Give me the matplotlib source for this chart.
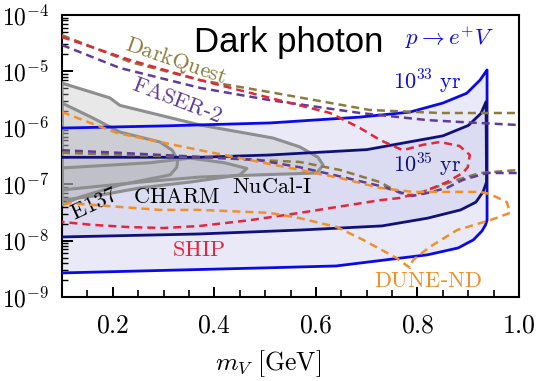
import numpy as np
import matplotlib.pyplot as plt

plt.rcParams['mathtext.fontset'] = 'cm'

# proton decay bands p -> e+ V (coupling vs mass)
b33_up_m = [0.100, 0.300, 0.510, 0.687, 0.785, 0.850, 0.897, 0.923, 0.935, 0.937]
b33_up_e = [9.9e-7, 1.08e-6, 1.22e-6, 1.55e-6, 1.9e-6, 2.75e-6, 4.1e-6, 7.0e-6, 1.0e-5, 1.06e-5]
b33_lo_m = [0.100, 0.510, 0.640, 0.750, 0.820, 0.880, 0.910, 0.927, 0.934, 0.937]
b33_lo_e = [2.67e-9, 3.3e-9, 3.55e-9, 4.7e-9, 5.6e-9, 7.4e-9, 1.03e-8, 1.48e-8, 1.9e-8, 2.3e-8]

b35_up_m = [0.100, 0.370, 0.510, 0.700, 0.850, 0.900, 0.925, 0.935]
b35_up_e = [3.0e-7, 3.0e-7, 3.3e-7, 4.1e-7, 7.2e-7, 1.1e-6, 1.8e-6, 2.9e-6]
b35_lo_m = [0.100, 0.370, 0.570, 0.730, 0.820, 0.885, 0.915, 0.929, 0.936]
b35_lo_e = [1.16e-8, 1.31e-8, 1.54e-8, 1.82e-8, 2.5e-8, 3.5e-8, 4.8e-8, 7.3e-8, 1.09e-7]

# beam dump exclusions
nucal_m = [0.100, 0.194, 0.214, 0.372, 0.515, 0.568, 0.604, 0.614, 0.602, 0.484, 0.372, 0.254, 0.100]
nucal_e = [6.2e-6, 3.4e-6, 2.5e-6, 1.12e-6, 6.6e-7, 4.6e-7, 3.0e-7, 2.2e-7, 1.58e-7, 1.46e-7, 1.34e-7, 1.09e-7, 7.9e-8]
e137_m = [0.100, 0.161, 0.214, 0.293, 0.317, 0.328, 0.326, 0.313, 0.273, 0.214, 0.135, 0.100]
e137_e = [2.75e-6, 1.49e-6, 8.4e-7, 5.6e-7, 4.0e-7, 2.7e-7, 2.0e-7, 1.46e-7, 1.24e-7, 9.7e-8, 5.9e-8, 4.3e-8]
charm_m = [0.100, 0.273, 0.352, 0.420, 0.464, 0.450, 0.352, 0.254, 0.175, 0.100]
charm_e = [1.94e-7, 2.4e-7, 2.9e-7, 2.4e-7, 1.9e-7, 1.46e-7, 1.09e-7, 8.6e-8, 6.4e-8, 5.2e-8]

# projected sensitivities
dq_top_m = [0.100, 0.234, 0.372, 0.509, 0.706, 0.844, 1.000]
dq_top_e = [4.4e-5, 1.47e-5, 7.0e-6, 4.3e-6, 2.07e-6, 1.83e-6, 1.83e-6]
dq_bot_m = [0.100, 0.372, 0.568, 0.647, 0.726, 0.765, 0.789, 0.815, 0.878, 0.923, 1.000]
dq_bot_e = [3.6e-7, 3.0e-7, 2.48e-7, 1.79e-7, 1.09e-7, 7.0e-8, 6.2e-8, 7.6e-8, 1.19e-7, 1.58e-7, 1.79e-7]

fa_top_m = [0.100, 0.214, 0.372, 0.509, 0.687, 0.819, 0.883, 1.000]
fa_top_e = [2.94e-5, 1.15e-5, 5.1e-6, 3.1e-6, 1.83e-6, 1.37e-6, 1.27e-6, 1.12e-6]
fa_bot_m = [0.100, 0.214, 0.372, 0.484, 0.568, 0.635, 0.726, 0.770, 0.790, 0.820, 0.858, 0.889, 0.937, 1.000]
fa_bot_e = [4.0e-7, 3.6e-7, 3.05e-7, 2.7e-7, 2.0e-7, 1.46e-7, 9.3e-8, 7.0e-8, 6.2e-8, 7.0e-8, 8.6e-8, 1.19e-7, 1.58e-7, 1.58e-7]

ship_m = [0.100, 0.234, 0.372, 0.509, 0.628, 0.687, 0.726, 0.771, 0.811, 0.844, 0.883, 0.903, 0.899,
          0.889, 0.858, 0.811, 0.765, 0.726, 0.568, 0.470, 0.372, 0.300, 0.230, 0.160, 0.100]
ship_e = [4.07e-5, 1.59e-5, 7.0e-6, 3.4e-6, 1.83e-6, 9.9e-7, 6.1e-7, 4.0e-7, 5.0e-7, 5.6e-7, 4.75e-7, 3.3e-7, 2.0e-7,
          1.58e-7, 1.09e-7, 7.3e-8, 5.7e-8, 5.2e-8, 3.1e-8, 2.3e-8, 1.82e-8, 1.67e-8, 1.74e-8, 1.9e-8, 2.14e-8]

dune_m = [0.100, 0.208, 0.293, 0.372, 0.549, 0.647, 0.726, 0.791, 0.923, 0.943, 0.976, 0.982, 0.943, 0.878,
          0.824, 0.791, 0.785, 0.759, 0.693, 0.641, 0.568, 0.509, 0.372, 0.293, 0.116, 0.100]
dune_e = [1.9e-6, 8.1e-7, 5.6e-7, 4.0e-7, 1.94e-7, 1.29e-7, 8.6e-8, 7.3e-8, 7.3e-8, 6.7e-8, 4.8e-8, 3.1e-8, 2.3e-8, 1.54e-8,
          7.7e-9, 4.5e-9, 3.3e-9, 4.9e-9, 1.03e-8, 1.74e-8, 2.5e-8, 3.1e-8, 3.5e-8, 3.5e-8, 4.6e-8, 4.3e-8]

x_ticks = [0.2, 0.4, 0.6, 0.8, 1.0]
x_labels = ['$0.2$', '$0.4$', '$0.6$', '$0.8$', '$1.0$']
y_ticks = [1e-9, 1e-8, 1e-7, 1e-6, 1e-5, 1e-4]
y_labels = ['$10^{-9}$', '$10^{-8}$', '$10^{-7}$', '$10^{-6}$', '$10^{-5}$', '$10^{-4}$']

blue33 = '#0a0ae6'
blue35 = '#10107a'
c_dq = '#8b7b3f'
c_fa = '#5e3c99'
c_ship = '#e3263c'
c_dune = '#f0902a'
gray = '#8e8e8e'

fig = plt.figure(figsize=(5.39, 3.81), dpi=100)
ax = fig.add_axes([0.115, 0.2205, 0.848, 0.7401])
ax.set_yscale('log')

bands = [(b33_up_m, b33_up_e, b33_lo_m, b33_lo_e, blue33),
         (b35_up_m, b35_up_e, b35_lo_m, b35_lo_e, blue35)]

# band fills
for up_m, up_e, lo_m, lo_e, col in bands:
    ax.fill(list(up_m) + list(lo_m[::-1]), list(up_e) + list(lo_e[::-1]),
            color='#c8c8eb', alpha=0.4, lw=0, zorder=1)

# beam dump regions
for m, e in [(nucal_m, nucal_e), (e137_m, e137_e), (charm_m, charm_e)]:
    ax.fill(m, e, facecolor='#b4b4b4', alpha=0.3, edgecolor='none', zorder=2)
    ax.plot(list(m) + [m[0]], list(e) + [e[0]], color=gray, lw=2.2, zorder=3)

# band outlines
for up_m, up_e, lo_m, lo_e, col in bands:
    ax.plot(list(up_m) + list(lo_m[::-1]), list(up_e) + list(lo_e[::-1]), color=col, lw=2.0, zorder=4)

ds = (0, (3.2, 2.0))
ax.plot(dq_top_m, dq_top_e, color=c_dq, lw=1.8, ls=ds, zorder=5)
ax.plot(dq_bot_m, dq_bot_e, color=c_dq, lw=1.8, ls=ds, zorder=5)
ax.plot(fa_top_m, fa_top_e, color=c_fa, lw=1.8, ls=ds, zorder=5)
ax.plot(fa_bot_m, fa_bot_e, color=c_fa, lw=1.8, ls=ds, zorder=5)
ax.plot(ship_m, ship_e, color=c_ship, lw=1.8, ls=ds, zorder=5)
ax.plot(dune_m, dune_e, color=c_dune, lw=1.8, ls=ds, zorder=5)

# labels
ax.text(0.497, 0.904, 'Dark photon', transform=ax.transAxes, ha='center', va='center',
        fontsize=25, family='Liberation Sans')
ax.text(0.862, 4.0e-5, r'$p\rightarrow e^{+}V$', color=blue33, fontsize=16.5, ha='center', va='center')
ax.text(0.324, 1.53e-5, r'$\mathrm{DarkQuest}$', color=c_dq, fontsize=16, rotation=-19, ha='center', va='center')
ax.text(0.326, 3.1e-6, r'$\mathrm{FASER}$-$2$', color=c_fa, fontsize=16, rotation=-21, ha='center', va='center')
ax.text(0.82, 6.5e-6, r'$10^{33}\ \mathrm{yr}$', color=blue33, fontsize=16, ha='center', va='center')
ax.text(0.82, 2.3e-7, r'$10^{35}\ \mathrm{yr}$', color=blue35, fontsize=16, ha='center', va='center')
ax.text(0.163, 4.5e-8, r'$\mathrm{E137}$', color='k', fontsize=16, rotation=25, ha='center', va='center')
ax.text(0.326, 5.9e-8, r'$\mathrm{CHARM}$', color='k', fontsize=16, ha='center', va='center')
ax.text(0.513, 8.9e-8, r'$\mathrm{NuCal}$-$\mathrm{I}$', color='k', fontsize=16, ha='center', va='center')
ax.text(0.368, 6.8e-9, r'$\mathrm{SHIP}$', color=c_ship, fontsize=16, ha='center', va='center')
ax.text(0.82, 1.92e-9, r'$\mathrm{DUNE}$-$\mathrm{ND}$', color=c_dune, fontsize=16, ha='center', va='center')

ax.set_xlim(0.1, 1.0)
ax.set_ylim(1e-9, 1e-4)
ax.set_xticks(x_ticks)
ax.set_xticklabels(x_labels, fontsize=18.5)
ax.set_xticks(np.arange(0.1, 1.0, 0.05), minor=True)
ax.set_yticks(y_ticks)
ax.set_yticklabels(y_labels, fontsize=17)
ax.tick_params(axis='both', which='both', direction='in')
ax.tick_params(axis='x', which='major', length=7, width=1.4, pad=11)
ax.tick_params(axis='x', which='minor', length=5, width=1.2)
ax.tick_params(axis='y', which='major', length=8, width=1.4, pad=9)
ax.tick_params(axis='y', which='minor', length=4, width=1.0, labelleft=False)
for s in ax.spines.values():
    s.set_linewidth(1.5)
ax.set_xlabel(r'$m_V\ [\mathrm{GeV}]$', fontsize=18.5, x=0.45, labelpad=7)

plt.savefig('out.png', dpi=100)
